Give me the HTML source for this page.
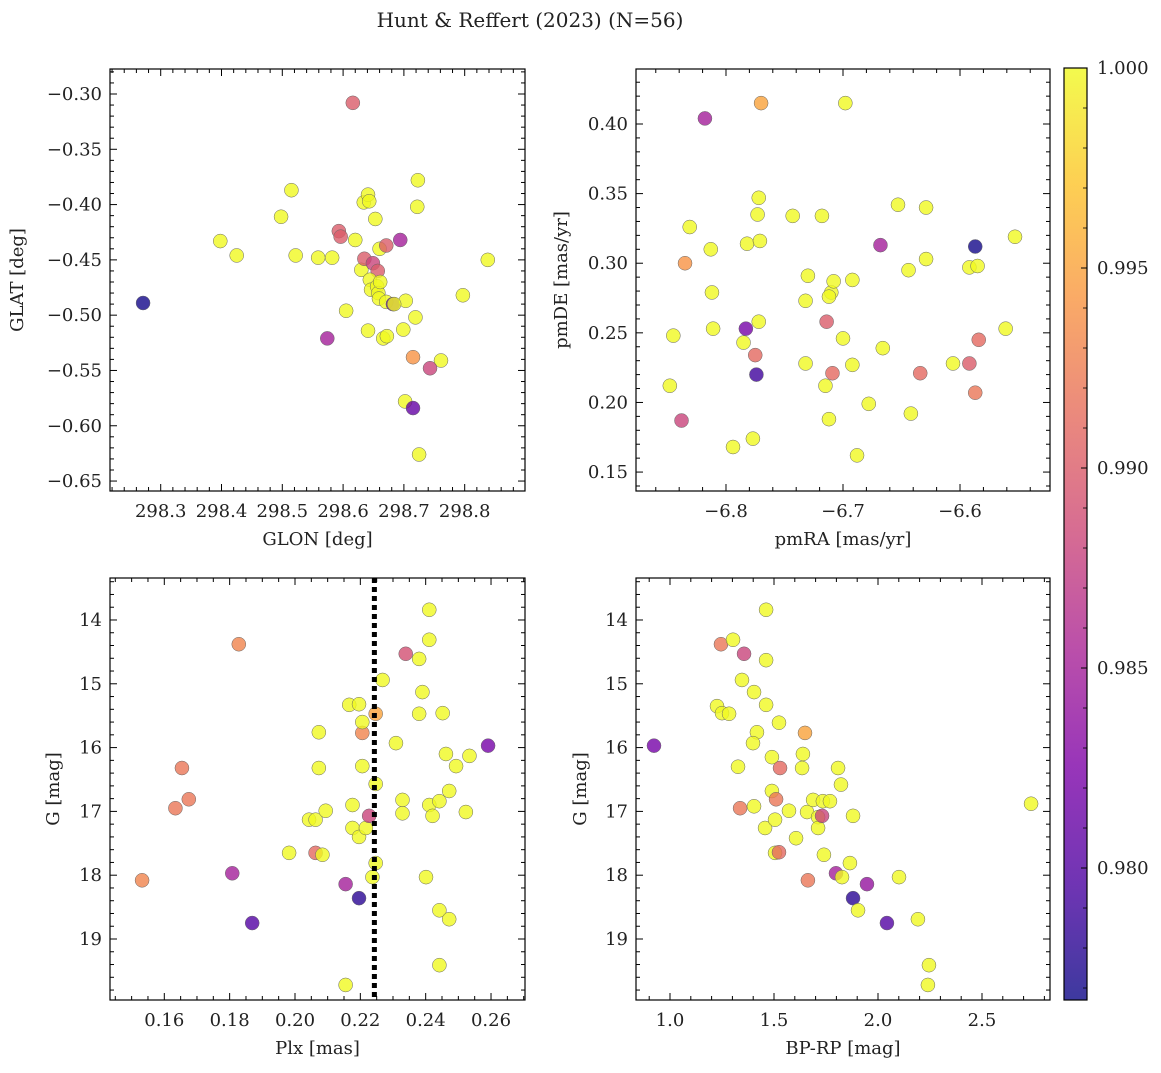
<!DOCTYPE html>
<html><head><meta charset="utf-8"><style>
body{margin:0;background:#fff;}
svg text{font-family:"DejaVu Serif","Liberation Serif",serif;fill:#222;}
</style></head><body>
<svg id="fig" width="1161" height="1068" viewBox="0 0 1161 1068" xmlns="http://www.w3.org/2000/svg">
<defs><linearGradient id="plasma" x1="0" y1="1" x2="0" y2="0">
<stop offset="0" stop-color="#0d0887"/><stop offset="0.125" stop-color="#4c02a1"/><stop offset="0.25" stop-color="#7e03a8"/><stop offset="0.375" stop-color="#a92395"/><stop offset="0.5" stop-color="#cc4778"/><stop offset="0.625" stop-color="#e56b5d"/><stop offset="0.75" stop-color="#f89441"/><stop offset="0.875" stop-color="#fdc328"/><stop offset="1" stop-color="#f0f921"/>
</linearGradient></defs>
<text x="530" y="27" font-size="20" text-anchor="middle">Hunt &amp; Reffert (2023) (N=56)</text>
</svg>
<script>
// ---- panel 1 (GLON vs GLAT)
const glon=[298.616,298.271,298.398,298.425,298.515,298.498,298.522,298.559,298.582,298.574,298.605,298.593,298.596,298.620,298.634,298.641,298.643,298.653,298.630,298.635,298.649,298.657,298.644,298.646,298.656,298.660,298.671,298.694,298.723,298.722,298.641,298.658,298.659,298.666,298.672,298.671,298.682,298.703,298.699,298.719,298.715,298.761,298.743,298.702,298.715,298.725,298.797,298.838,298.661,298.684];
const glat=[-0.308,-0.489,-0.433,-0.446,-0.387,-0.411,-0.446,-0.448,-0.448,-0.521,-0.496,-0.424,-0.429,-0.432,-0.398,-0.391,-0.397,-0.413,-0.459,-0.449,-0.453,-0.460,-0.468,-0.477,-0.474,-0.440,-0.437,-0.432,-0.378,-0.402,-0.514,-0.480,-0.485,-0.521,-0.519,-0.488,-0.490,-0.487,-0.513,-0.502,-0.538,-0.541,-0.548,-0.578,-0.584,-0.626,-0.482,-0.450,-0.470,-0.490];
const prob1=[0.990,0.977,1,1,1,1,1,1,1,0.985,1,0.990,0.990,1,1,1,1,1,1,0.990,0.988,0.990,1,1,1,1,0.990,0.985,1,1,1,1,1,1,1,1,0.981,1,1,1,0.994,1,0.988,1,0.981,1,1,1,1,1];
// ---- panel 2 (pmRA vs pmDE)
const pmra=[-6.818,-6.770,-6.698,-6.831,-6.835,-6.813,-6.812,-6.811,-6.845,-6.848,-6.838,-6.782,-6.772,-6.773,-6.771,-6.783,-6.785,-6.772,-6.775,-6.774,-6.777,-6.794,-6.743,-6.730,-6.732,-6.718,-6.710,-6.708,-6.712,-6.714,-6.700,-6.732,-6.715,-6.709,-6.712,-6.692,-6.692,-6.678,-6.688,-6.668,-6.666,-6.653,-6.644,-6.642,-6.634,-6.629,-6.629,-6.606,-6.592,-6.592,-6.587,-6.585,-6.584,-6.587,-6.561,-6.553];
const pmde=[0.404,0.415,0.415,0.326,0.300,0.310,0.279,0.253,0.248,0.212,0.187,0.314,0.347,0.335,0.316,0.253,0.243,0.258,0.234,0.220,0.174,0.168,0.334,0.291,0.273,0.334,0.279,0.287,0.276,0.258,0.246,0.228,0.212,0.221,0.188,0.227,0.288,0.199,0.162,0.313,0.239,0.342,0.295,0.192,0.221,0.340,0.303,0.228,0.228,0.297,0.312,0.298,0.245,0.207,0.253,0.319];
const prob2=[0.985,0.995,1,1,0.994,1,1,1,1,1,0.988,1,1,1,1,0.982,1,1,0.991,0.979,1,1,1,1,1,1,1,1,1,0.990,1,1,1,0.991,1,1,1,1,1,0.985,1,1,1,1,0.991,1,1,1,0.990,1,0.977,1,0.991,0.992,1,1];
// ---- panel 3 (Plx vs G)
const plx=[0.1828,0.1532,0.1634,0.1654,0.1675,0.1808,0.1869,0.1982,0.2043,0.2063,0.2063,0.2084,0.2073,0.2073,0.2094,0.2166,0.2196,0.2176,0.2176,0.2196,0.2155,0.2196,0.2155,0.2206,0.2206,0.2206,0.2247,0.2217,0.2227,0.2247,0.2247,0.2237,0.2268,0.2309,0.2339,0.2380,0.2380,0.2390,0.2411,0.2411,0.2329,0.2329,0.2411,0.2421,0.2401,0.2442,0.2472,0.2452,0.2442,0.2442,0.2462,0.2472,0.2493,0.2523,0.2534,0.2591];
const gmag3=[14.38,18.08,16.95,16.32,16.81,17.97,18.75,17.65,17.13,17.13,17.65,17.68,15.76,16.32,16.99,15.33,15.32,16.90,17.26,17.40,18.14,18.36,19.72,16.29,15.77,15.60,15.47,17.26,17.07,16.57,17.81,18.03,14.94,15.93,14.53,14.61,15.47,15.13,13.84,14.31,16.82,17.03,16.90,17.07,18.03,18.55,18.69,15.46,19.41,16.84,16.10,16.68,16.29,17.01,16.13,15.97];
const prob3=[0.993,0.993,0.992,0.992,0.992,0.985,0.980,1,1,1,0.991,1,1,1,1,1,1,1,1,1,0.985,0.978,1,1,0.993,1,0.995,1,0.988,1,1,1,1,1,0.989,1,1,1,1,1,1,1,1,1,1,1,1,1,1,1,1,1,1,1,1,0.982];
const plxLine=0.2243;
// ---- panel 4 (BP-RP vs G)
const bprp=[0.923,1.245,1.303,1.356,1.462,1.462,1.226,1.250,1.284,1.346,1.404,1.462,1.418,1.399,1.327,1.337,1.404,1.490,1.529,1.524,1.649,1.639,1.635,1.457,1.490,1.510,1.505,1.505,1.524,1.572,1.606,1.663,1.659,1.688,1.712,1.712,1.731,1.735,1.740,1.808,1.822,1.769,1.880,1.798,1.827,1.865,1.880,1.904,1.947,2.101,2.043,2.192,2.245,2.240,2.736];
const gmag4=[15.97,14.38,14.31,14.53,13.84,14.63,15.35,15.46,15.47,14.94,15.13,15.33,15.76,15.93,16.30,16.95,16.92,16.15,16.32,15.61,15.77,16.10,16.32,17.26,16.68,16.81,17.13,17.65,17.64,16.99,17.42,18.08,17.01,16.82,17.09,17.26,17.07,16.84,17.68,16.32,16.58,16.84,17.07,17.97,18.03,17.81,18.36,18.55,18.14,18.03,18.75,18.69,19.41,19.72,16.88];
const prob4=[0.982,0.992,1,0.988,1,1,1,1,1,1,1,1,1,1,1,0.992,1,1,0.991,1,0.995,1,1,1,1,0.992,1,1,0.991,1,1,0.992,1,1,1,1,0.988,1,1,1,1,1,1,0.985,1,1,0.978,1,0.984,1,0.980,1,1,1,1];
const cbTicks=[0.980,0.985,0.990,0.995,1.000];
const cMin=0.9767,cMax=1.0;

const NS='http://www.w3.org/2000/svg';
const svg=document.getElementById('fig');
function mk(tag,attrs,parent){const e=document.createElementNS(NS,tag);for(const k in attrs)e.setAttribute(k,attrs[k]);(parent||svg).appendChild(e);return e;}
const stops=[[0,[13,8,135]],[0.125,[76,2,161]],[0.25,[126,3,168]],[0.375,[169,35,149]],[0.5,[204,71,120]],[0.625,[229,107,93]],[0.75,[248,148,65]],[0.875,[253,195,40]],[1,[240,249,33]]];
function plasma(v){let t=Math.max(0,Math.min(1,(v-cMin)/(cMax-cMin)));for(let i=1;i<stops.length;i++){if(t<=stops[i][0]){const a=stops[i-1],b=stops[i],f=(t-a[0])/(b[0]-a[0]);return 'rgb('+a[1].map((c,j)=>Math.round(c+(b[1][j]-c)*f)).join(',')+')';}}return 'rgb(240,249,33)';}

function panel(o){
  const g=mk('g',{});
  
  
  const sx=v=>o.x0+(v-o.xmin)/(o.xmax-o.xmin)*(o.x1-o.x0);
  const sy=v=>o.inv? o.y0+(v-o.ymin)/(o.ymax-o.ymin)*(o.y1-o.y0) : o.y1-(v-o.ymin)/(o.ymax-o.ymin)*(o.y1-o.y0);
  for(let i=0;i<o.xs.length;i++){
    const c=mk('circle',{cx:sx(o.xs[i]),cy:sy(o.ys[i]),r:7,fill:plasma(o.ps[i]),'fill-opacity':0.8,stroke:'#666','stroke-width':0.5},g);
    
    
  }
  if(o.vline!==undefined){
    const l=mk('line',{x1:sx(o.vline),x2:sx(o.vline),y1:o.y0,y2:o.y1,stroke:'#000','stroke-width':5,'stroke-dasharray':'5,4'},g);
    
    
  }
  const fr=mk('rect',{x:o.x0,y:o.y0,width:o.x1-o.x0,height:o.y1-o.y0,fill:'none',stroke:'#000','stroke-width':1.2},g);
  
  
  const eps=1e-9;
  for(let k=Math.ceil(o.xmin/o.xmin_s-eps);k*o.xmin_s<=o.xmax+eps;k++){
    const v=k*o.xmin_s,X=sx(v);
    const maj=Math.abs(v/o.xmaj-Math.round(v/o.xmaj))<1e-6;const L=maj?7:4;
    mk('line',{x1:X,x2:X,y1:o.y1,y2:o.y1-L,stroke:'#000','stroke-width':1},g);
    mk('line',{x1:X,x2:X,y1:o.y0,y2:o.y0+L,stroke:'#000','stroke-width':1},g);
    if(maj){const t=mk('text',{x:X,y:o.y1+26,'font-size':18,'text-anchor':'middle'},g);t.textContent=o.xfmt(v);
      
      }
  }
  for(let k=Math.ceil(o.ymin/o.ymin_s-eps);k*o.ymin_s<=o.ymax+eps;k++){
    const v=k*o.ymin_s,Y=sy(v);
    const maj=Math.abs(v/o.ymaj-Math.round(v/o.ymaj))<1e-6;const L=maj?7:4;
    mk('line',{x1:o.x0,x2:o.x0+L,y1:Y,y2:Y,stroke:'#000','stroke-width':1},g);
    mk('line',{x1:o.x1,x2:o.x1-L,y1:Y,y2:Y,stroke:'#000','stroke-width':1},g);
    if(maj){const t=mk('text',{x:o.x0-8,y:Y+6,'font-size':18,'text-anchor':'end'},g);t.textContent=o.yfmt(v);
      
      }
  }
  const xl=mk('text',{x:(o.x0+o.x1)/2,y:o.y1+54,'font-size':18,'text-anchor':'middle'},g);xl.textContent=o.xlabel;
  
  
  const yx=o.ylx,yy=(o.y0+o.y1)/2;
  const yl=mk('text',{x:yx,y:yy,'font-size':18,'text-anchor':'middle',transform:'rotate(-90 '+yx+' '+yy+')'},g);yl.textContent=o.ylabel;
  
  
}
const neg=s=>s.replace('-','\u2212');
panel({name:'glon-glat-panel',xs:glon,ys:glat,ps:prob1,x0:110,x1:525,y0:69,y1:491,xmin:298.2166,xmax:298.8992,ymin:-0.659,ymax:-0.2774,xmaj:0.1,xmin_s:0.02,ymaj:0.05,ymin_s:0.01,xfmt:v=>v.toFixed(1),yfmt:v=>neg(v.toFixed(2)),xlabel:'GLON [deg]',ylabel:'GLAT [deg]',ylx:23});
panel({name:'pm-panel',xs:pmra,ys:pmde,ps:prob2,x0:636,x1:1050,y0:69,y1:491,xmin:-6.8769,xmax:-6.5231,ymin:0.1364,ymax:0.4395,xmaj:0.1,xmin_s:0.02,ymaj:0.05,ymin_s:0.01,xfmt:v=>neg(v.toFixed(1)),yfmt:v=>v.toFixed(2),xlabel:'pmRA [mas/yr]',ylabel:'pmDE [mas/yr]',ylx:567});
panel({name:'plx-g-panel',xs:plx,ys:gmag3,ps:prob3,vline:plxLine,inv:true,x0:110,x1:525,y0:578,y1:1000,xmin:0.14338,xmax:0.2704,ymin:13.342,ymax:19.956,xmaj:0.02,xmin_s:0.005,ymaj:1,ymin_s:0.2,xfmt:v=>v.toFixed(2),yfmt:v=>v.toFixed(0),xlabel:'Plx [mas]',ylabel:'G [mag]',ylx:59});
panel({name:'cmd-panel',xs:bprp,ys:gmag4,ps:prob4,inv:true,x0:636,x1:1050,y0:578,y1:1000,xmin:0.8365,xmax:2.827,ymin:13.342,ymax:19.956,xmaj:0.5,xmin_s:0.1,ymaj:1,ymin_s:0.2,xfmt:v=>v.toFixed(1),yfmt:v=>v.toFixed(0),xlabel:'BP-RP [mag]',ylabel:'G [mag]',ylx:586});
const cb=mk('g',{});


mk('rect',{x:1064,y:68,width:23,height:932,fill:'url(#plasma)','fill-opacity':0.8},cb);
mk('rect',{x:1064,y:68,width:23,height:932,fill:'none',stroke:'#000','stroke-width':1.2},cb);
const cy=v=>1000-(v-cMin)/(cMax-cMin)*932;
cbTicks.forEach(v=>{const Y=cy(v);mk('line',{x1:1087,x2:1081,y1:Y,y2:Y,stroke:'#000'},cb);
  const t=mk('text',{x:1097,y:Y+6,'font-size':18},cb);t.textContent=v.toFixed(3);
  
  });
for(let v=0.977;v<1.0;v+=0.001){const Y=cy(v);mk('line',{x1:1087,x2:1083,y1:Y,y2:Y,stroke:'#000','stroke-width':0.8},cb);}
</script>
</body></html>
